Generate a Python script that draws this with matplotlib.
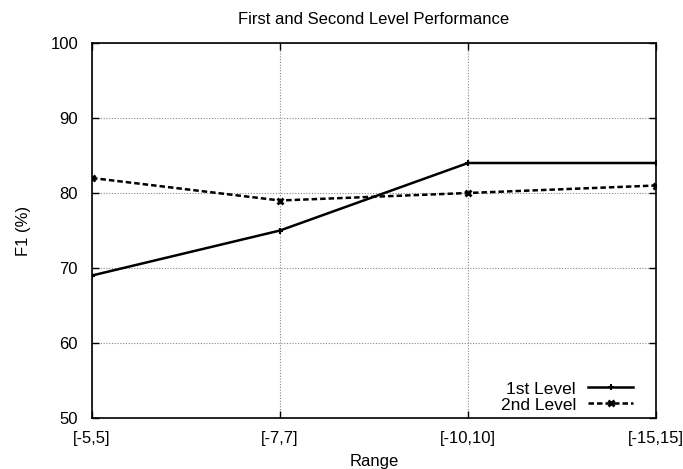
import matplotlib
matplotlib.use("Agg")
import matplotlib.pyplot as plt

ranges = ["[-5,5]", "[-7,7]", "[-10,10]", "[-15,15]"]
first_level = [69, 75, 84, 84]
second_level = [82, 79, 80, 81]
y_ticks = [50, 60, 70, 80, 90, 100]

plt.rcParams["font.family"] = ["Liberation Sans", "DejaVu Sans"]
plt.rcParams["font.size"] = 12

fig = plt.figure(figsize=(6.83, 4.69), dpi=100)
ax = fig.add_axes([92 / 683, 1 - 418 / 469, (656 - 92) / 683, (418 - 43) / 469])

x = list(range(len(ranges)))
ax.plot(x, first_level, color="black", lw=1.8, marker="+", ms=5, mew=1.5,
        label="1st Level")
ax.plot(x, second_level, color="black", lw=1.8, ls=(0, (2.2, 1.2)), marker="x",
        ms=4.5, mew=2, label="2nd Level")

ax.set_xlim(0, len(ranges) - 1)
ax.set_ylim(50, 100)
ax.set_xticks(x)
ax.set_xticklabels(ranges)
ax.set_yticks(y_ticks)
ax.grid(True, color="#888888", ls=(0, (1, 1.5)), lw=0.8)
ax.tick_params(direction="in", top=True, right=True, length=5, width=1)
ax.tick_params(axis="x", pad=9)
ax.tick_params(axis="y", pad=10)
for s in ax.spines.values():
    s.set_linewidth(1.2)

ax.set_title("First and Second Level Performance", fontsize=12, pad=14)
ax.set_xlabel("Range", labelpad=6)
ax.set_ylabel("F1 (%)", labelpad=14)

ax.legend(loc="lower right", bbox_to_anchor=(0.972, -0.004), frameon=False,
          markerfirst=False, handlelength=2.6, borderaxespad=0,
          labelspacing=0.05, handletextpad=0.7, fontsize=12.5)

fig.savefig("out.png", dpi=100)
